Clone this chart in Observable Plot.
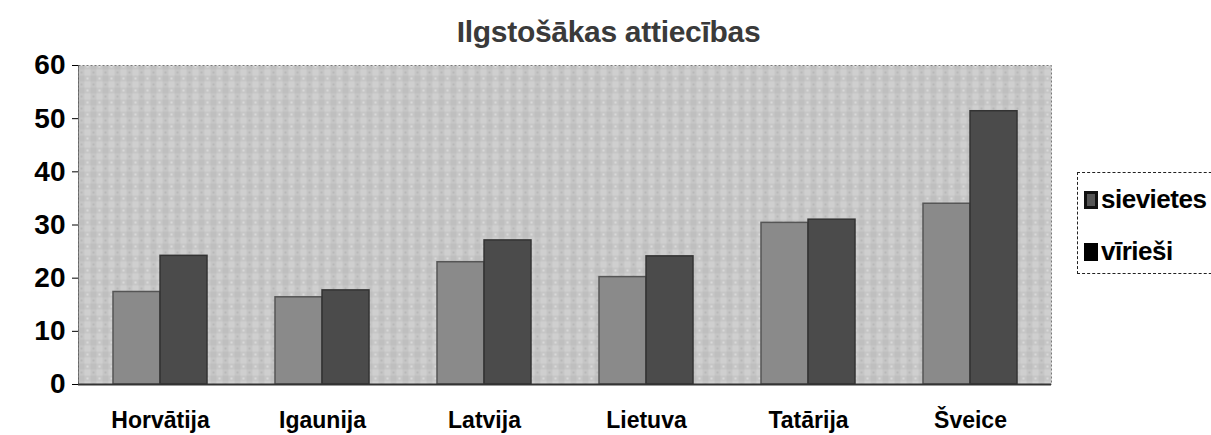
<!DOCTYPE html>
<html>
<head>
<meta charset="utf-8">
<script src="https://cdn.jsdelivr.net/npm/d3@7"></script>
<script src="https://cdn.jsdelivr.net/npm/@observablehq/plot@0.6"></script>
<style>
  html, body { margin: 0; padding: 0; background: #fff; }
  #wrap { position: relative; width: 1211px; height: 435px; overflow: hidden; font-family: "Liberation Sans", Arial, sans-serif; }
  #title { height: 45px; box-sizing: border-box; padding-top: 17px; line-height: 30px; text-align: center; font-size: 30px; font-weight: bold; color: #3a3a3a; padding-left: 6px; letter-spacing: -0.3px; }
  #legend { position: absolute; left: 1077px; top: 172px; width: 150px; height: 102px; border: 1.5px dashed #222; border-right: none; box-sizing: border-box; }
  .item { position: absolute; left: 6px; display: flex; align-items: center; font-size: 26px; font-weight: bold; color: #000; letter-spacing: -0.5px; }
  .sw { width: 14px; height: 18px; margin-right: 3px; box-sizing: border-box; }
  #chart svg g[aria-label="y-axis tick label"] text { font-size: 28px !important; font-weight: bold !important; }
  #chart svg g[aria-label="x-axis tick label"] text { font-size: 23px !important; font-weight: bold !important; }
</style>
</head>
<body>
<div id="wrap">
  <div id="title">Ilgstošākas attiecības</div>
  <div id="chart"></div>
  <div id="legend"></div>
</div>
<script>
// ---- data ----
const countries = ["Horvātija", "Igaunija", "Latvija", "Lietuva", "Tatārija", "Šveice"];
const seriesNames = ["sievietes", "vīrieši"];
const sievietes = [17.4, 16.4, 23.0, 20.2, 30.4, 34.0];
const virieshi = [24.2, 17.7, 27.1, 24.1, 31.0, 51.4];
const yTicks = [0, 10, 20, 30, 40, 50, 60];

const colors = { "sievietes": "#8a8a8a", "vīrieši": "#4b4b4b" };

const rows = [];
countries.forEach((c, i) => {
  rows.push({ country: c, series: seriesNames[0], value: sievietes[i] });
  rows.push({ country: c, series: seriesNames[1], value: virieshi[i] });
});

const W = 1211, H = 390;
const mL = 78, mR = 160, mT = 20, mB = 51;
const pad = 0.42;
const step = (W - mL - mR) / countries.length;
const half = step * (1 - pad) / 2;

const chart = Plot.plot({
  width: W,
  height: H,
  marginLeft: mL,
  marginRight: mR,
  marginTop: mT,
  marginBottom: mB,
  style: { fontFamily: "'Liberation Sans', Arial, sans-serif", background: "transparent", color: "#000" },
  x: {
    domain: countries,
    paddingInner: pad,
    paddingOuter: pad / 2,
    label: null,
    tickSize: 0,
    tickPadding: 27
  },
  y: {
    domain: [0, 60],
    ticks: yTicks,
    label: null,
    tickSize: 6,
    tickPadding: 7,
    line: true
  },
  marks: [
    Plot.frame({ fill: "url(#bgpat)", stroke: "#7a7a7a", strokeDasharray: "2,2" }),
    Plot.barY(rows.filter(d => d.series === seriesNames[0]), {
      x: "country", y: "value", fill: colors["sievietes"], stroke: "#555", strokeWidth: 1.5,
      insetRight: half
    }),
    Plot.barY(rows.filter(d => d.series === seriesNames[1]), {
      x: "country", y: "value", fill: colors["vīrieši"], stroke: "#333", strokeWidth: 1.5,
      insetLeft: half
    }),
    Plot.ruleY([0], { stroke: "#333", strokeWidth: 2 })
  ]
});

// background texture pattern
const ns = "http://www.w3.org/2000/svg";
const defs = document.createElementNS(ns, "defs");
defs.innerHTML = `
  <pattern id="bgpat" width="12" height="12" patternUnits="userSpaceOnUse">
    <rect width="12" height="12" fill="#c6c6c6"/>
    <rect x="0" y="0" width="6" height="6" fill="#cfcfcf"/>
    <rect x="6" y="6" width="6" height="6" fill="#bfbfbf"/>
    <circle cx="3" cy="9" r="1" fill="#e0e0e0"/>
    <circle cx="9" cy="3" r="1" fill="#b4b4b4"/>
  </pattern>`;
chart.insertBefore(defs, chart.firstChild);

chart.querySelectorAll("g[aria-label^='y-axis'] text").forEach(t => {
  t.setAttribute("font-size", "28"); t.setAttribute("font-weight", "bold");
});
chart.querySelectorAll("g[aria-label^='x-axis'] text").forEach(t => {
  t.setAttribute("font-size", "23"); t.setAttribute("font-weight", "bold");
});

document.getElementById("chart").appendChild(chart);

// legend
const legend = document.getElementById("legend");
const legendTops = [11, 63];
seriesNames.forEach((s, i) => {
  const it = document.createElement("div");
  it.className = "item";
  it.style.top = legendTops[i] + "px";
  const sw = document.createElement("span");
  sw.className = "sw";
  if (i === 0) { sw.style.border = "3px solid #111"; sw.style.background = "#555"; }
  else { sw.style.background = "#000"; }
  const tx = document.createElement("span");
  tx.textContent = s;
  it.appendChild(sw); it.appendChild(tx);
  legend.appendChild(it);
});
</script>
</body>
</html>
